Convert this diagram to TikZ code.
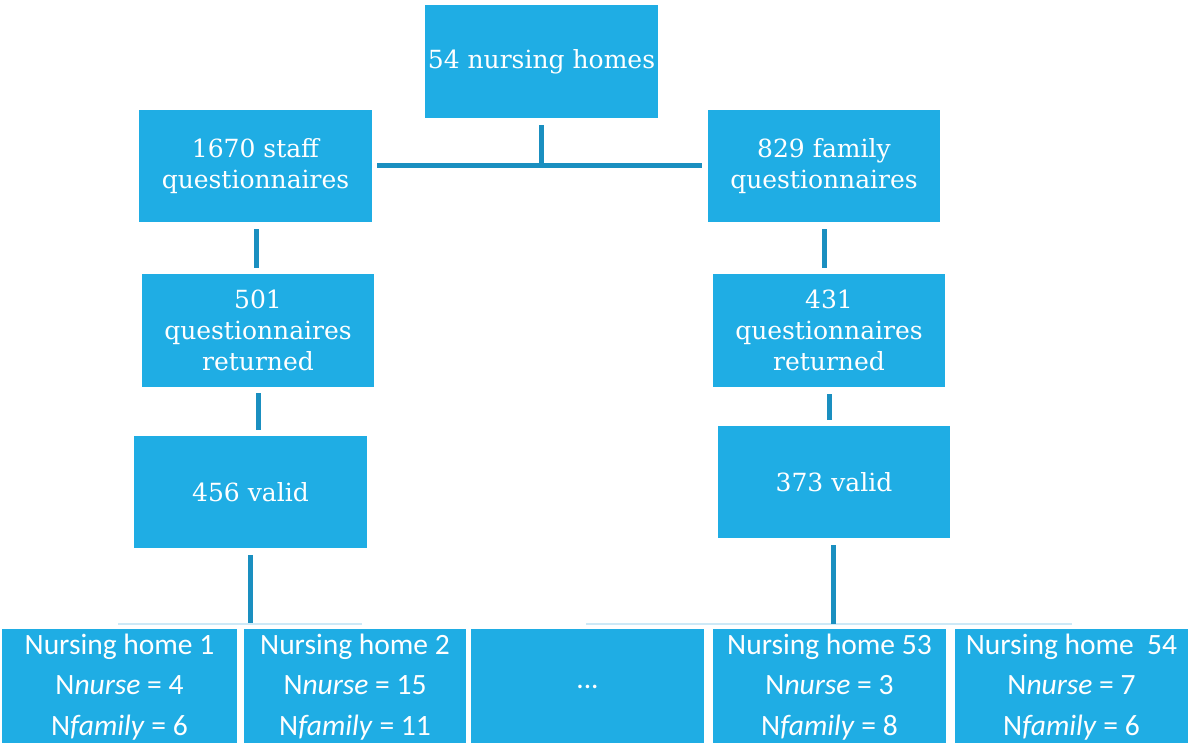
\documentclass[tikz,border=0pt]{standalone}
\usepackage{fontspec}
\setmainfont{DejaVu Serif}
\newfontfamily\calib{Carlito}
\usetikzlibrary{calc}
\definecolor{boxblue}{RGB}{31,173,228}
\definecolor{lineblue}{RGB}{26,143,192}
\definecolor{faintblue}{RGB}{205,233,247}
\begin{document}
\begin{tikzpicture}[x=1pt,y=-1pt,
  box/.style={fill=boxblue, draw=none, text=white, align=center, inner sep=0pt,
    font=\fontsize{25}{31}\selectfont},
  bbox/.style={fill=boxblue, draw=none, text=white, align=center, inner sep=0pt,
    minimum height=116pt, font=\calib\fontsize{29.5}{40.5}\selectfont},
  conn/.style={draw=lineblue, line width=5pt},
  faint/.style={draw=faintblue, line width=1.5pt}]
\useasboundingbox (0,0) rectangle (1188,742);

% upper boxes
\node[box, minimum width=233pt, minimum height=113pt] (top) at (541.5,61.5) {54 nursing homes};
\node[box, minimum width=233pt, minimum height=112pt] (staff) at (255.5,166) {1670 staff\\questionnaires};
\node[box, minimum width=232pt, minimum height=112pt] (family) at (824,166) {829 family\\questionnaires};
\node[box, minimum width=232pt, minimum height=113pt] (ret1) at (258,330.5) {501\\questionnaires\\returned};
\node[box, minimum width=232pt, minimum height=113pt] (ret2) at (829,330.5) {431\\questionnaires\\returned};
\node[box, minimum width=233pt, minimum height=112pt] (valid1) at (250.5,492) {456 valid};
\node[box, minimum width=232pt, minimum height=112pt] (valid2) at (834,482) {373 valid};

% faint guide lines
\coordinate (fa) at (118,624);
\coordinate (fb) at (362,624);
\coordinate (fc) at (586,624);
\coordinate (fd) at (1072,624);
\draw[faint] (fa) -- (fb);
\draw[faint] (fc) -- (fd);

% bottom boxes
\node[bbox, minimum width=235pt] (nh1) at (119.5,687) {Nursing home 1\\N\textit{nurse} = 4\\N\textit{family} = 6};
\node[bbox, minimum width=222pt] (nh2) at (355,687) {Nursing home 2\\N\textit{nurse} = 15\\N\textit{family} = 11};
\node[bbox, minimum width=233pt] (nh3) at (587.5,687) {...};
\node[bbox, minimum width=233pt] (nh4) at (829.5,687) {Nursing home 53\\N\textit{nurse} = 3\\N\textit{family} = 8};
\node[bbox, minimum width=233pt] (nh5) at (1071.5,687) {Nursing home~ 54\\N\textit{nurse} = 7\\N\textit{family} = 6};

% connectors
\coordinate (j) at ($(top.south)+(0,47)$);
\draw[conn] ($(top.south)+(0,7)$) -- (j);
\draw[conn] ($(staff.east)+(5,-1)$) -- ($(family.west)+(-6,-1)$);

\draw[conn] ($(staff.south)+(0.5,7)$) -- ($(ret1.north -| staff.south)+(0.5,-6)$);
\draw[conn] ($(ret1.south)+(0,6)$) -- ($(valid1.north -| ret1.south)+(0,-6)$);
\draw[conn] ($(valid1.south)+(0,7)$) -- ($(nh1.north -| valid1.south)+(0,-6)$);

\draw[conn] ($(family.south)+(0,7)$) -- ($(ret2.north -| family.south)+(0,-6)$);
\draw[conn] ($(ret2.south)+(0,7)$) -- ($(valid2.north -| ret2.south)+(0,-6)$);
\draw[conn] ($(valid2.south)+(-1,7)$) -- ($(nh4.north -| valid2.south)+(-1,-5)$);
\end{tikzpicture}
\end{document}
